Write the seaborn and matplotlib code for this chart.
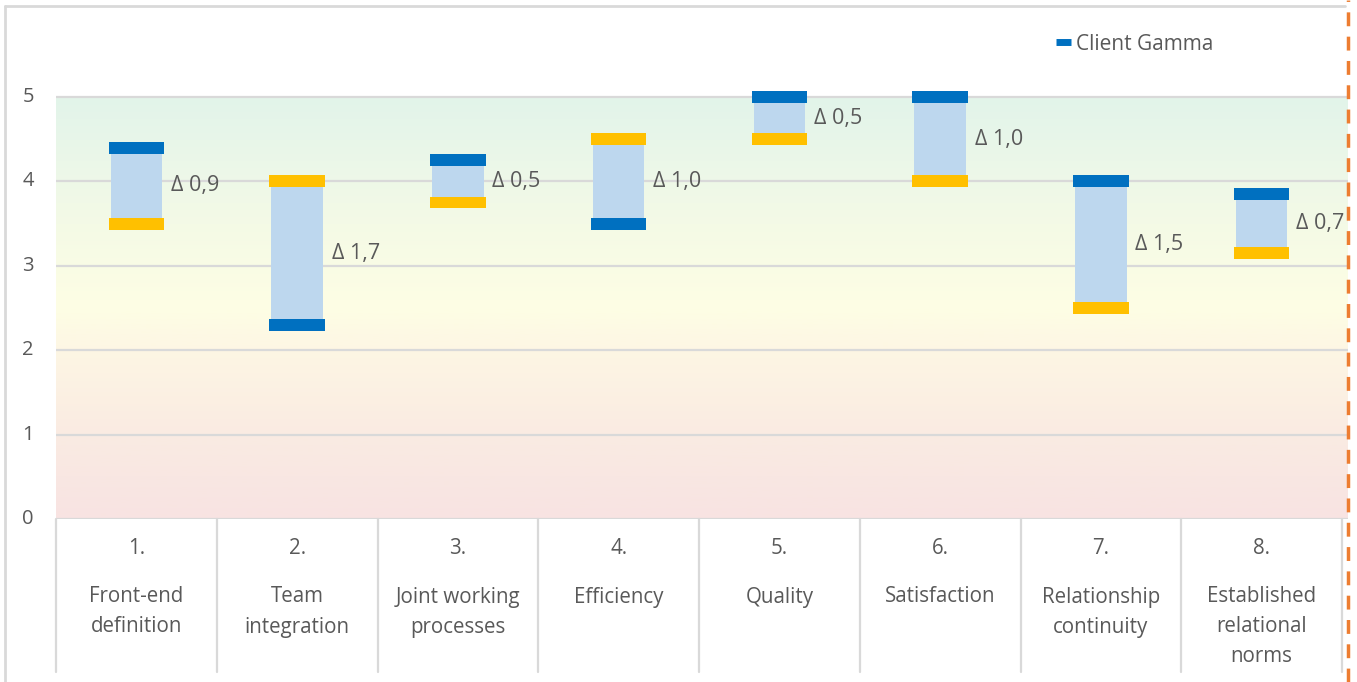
import numpy as np
import pandas as pd
import matplotlib
matplotlib.use("Agg")
import matplotlib.pyplot as plt
import matplotlib.colors as mcolors
from matplotlib.lines import Line2D
import seaborn as sns

# ---------------- data ----------------
numbers = ["1.", "2.", "3.", "4.", "5.", "6.", "7.", "8."]
names = ["Front-end\ndefinition", "Team\nintegration", "Joint working\nprocesses",
         "Efficiency", "Quality", "Satisfaction", "Relationship\ncontinuity",
         "Established\nrelational\nnorms"]
client_gamma = [4.4, 2.3, 4.25, 3.5, 5.0, 5.0, 4.0, 3.85]
comparison = [3.5, 4.0, 3.75, 4.5, 4.5, 4.0, 2.5, 3.15]
delta_labels = ["Δ 0,9", "Δ 1,7", "Δ 0,5", "Δ 1,0", "Δ 0,5", "Δ 1,0", "Δ 1,5", "Δ 0,7"]
y_ticks = [0, 1, 2, 3, 4, 5]
legend_label = "Client Gamma"

# ---------------- style ----------------
sns.set_theme(style="white")
plt.rcParams["font.family"] = ["Open Sans", "DejaVu Sans"]
TXT = "#595959"
GRID = "#D9D9D9"
BLUE = "#0070C0"
YELLOW = "#FFC000"
BAR = "#BDD7EE"

W, H = 1357, 682
fig = plt.figure(figsize=(W / 100, H / 100), dpi=100)

# axes geometry in pixels
left_px, right_px = 56, 1348
y0_px = 519          # pixel of value 0
unit_px = 84.4       # pixels per unit
top_px = 6
cat_w_px = (1342 - 56) / 8

ax = fig.add_axes([left_px / W, (H - y0_px) / H,
                   (right_px - left_px) / W, (y0_px - top_px) / H])
ymax = (y0_px - top_px) / unit_px
xmax = -0.5 + (right_px - left_px) / cat_w_px
ax.set_xlim(-0.5, xmax)
ax.set_ylim(0, ymax)

# background gradient 0..5
grad_cols = ["#F8E3E2", "#FAEBE2", "#FDF6E4", "#FEFEE4", "#F4FAE6", "#EEF8E8", "#E2F4EA"]
grad_pos = [0.0, 0.2, 0.4, 0.5, 0.7, 0.8, 1.0]
cmap = mcolors.LinearSegmentedColormap.from_list("bg", list(zip(grad_pos, grad_cols)))
grad = np.linspace(0, 1, 256).reshape(-1, 1)
ax.imshow(grad, extent=(-0.5, xmax, 0, 5), origin="lower", aspect="auto",
          cmap=cmap, zorder=0, interpolation="bilinear")

# gridlines
for t in y_ticks:
    ax.axhline(t, color=GRID, lw=1.6, zorder=1)

# data frame
df = pd.DataFrame({"num": numbers, "name": names, "gamma": client_gamma,
                   "comp": comparison, "delta": delta_labels})
df["low"] = df[["gamma", "comp"]].min(axis=1)
df["high"] = df[["gamma", "comp"]].max(axis=1)
df["span"] = df["high"] - df["low"]
xpos = np.arange(len(df))

# floating range bars
ax.bar(xpos, df["span"], bottom=df["low"], width=0.32, color=BAR, zorder=2, linewidth=0)

# markers (thick horizontal dashes)
mk_h = 0.142
ax.bar(xpos, mk_h, bottom=df["comp"] - mk_h / 2, width=0.345, color=YELLOW, zorder=3, linewidth=0)
ax.bar(xpos, mk_h, bottom=df["gamma"] - mk_h / 2, width=0.345, color=BLUE, zorder=3, linewidth=0)

# delta labels
for i, r in df.iterrows():
    ax.text(i + 0.215, (r["low"] + r["high"]) / 2, r["delta"], ha="left", va="center",
            fontsize=15.5, color=TXT, zorder=4)

# y tick labels
ax.set_yticks([])
ax.set_xticks([])
for t in y_ticks:
    ax.text(-0.5 - 28 / cat_w_px, t, str(t), ha="center", va="center", fontsize=14.5, color=TXT)

# category dividers below the axis
bottom_ext = -(672 - y0_px) / unit_px
for b in np.arange(-0.5, len(df) + 0.5, 1.0):
    ax.plot([b, b], [0, bottom_ext], color=GRID, lw=1.6, clip_on=False, zorder=1)

# category labels
line_step = 30 / unit_px
for i, r in df.iterrows():
    ax.text(i, -(549 - y0_px) / unit_px, r["num"], ha="center", va="center",
            fontsize=14.8, color=TXT, clip_on=False)
    for j, ln in enumerate(r["name"].split("\n")):
        ax.text(i, -(597 - y0_px) / unit_px - j * line_step, ln, ha="center", va="center",
                fontsize=14.8, color=TXT, clip_on=False)

for s in ax.spines.values():
    s.set_visible(False)
ax.patch.set_alpha(0)

# legend
h = Line2D([], [], color=BLUE, lw=5, solid_capstyle="butt")
fig.legend([h], [legend_label], loc="center left",
           bbox_to_anchor=(1056 / W, 1 - 44 / H), frameon=False,
           fontsize=15, labelcolor=TXT, handlelength=0.7, handletextpad=0.25,
           borderpad=0, borderaxespad=0)

# chart border (left and top) and orange dashed marker line
fig.add_artist(Line2D([5 / W, 5 / W], [0, 1 - 6 / H], color=GRID, lw=2))
fig.add_artist(Line2D([5 / W, 1345 / W], [1 - 6 / H, 1 - 6 / H], color=GRID, lw=2))
fig.add_artist(Line2D([1348 / W, 1348 / W], [0, 1], color="#ED7D31", lw=2.5,
                      linestyle=(0, (4, 3))))

fig.savefig("out.png", dpi=100)
